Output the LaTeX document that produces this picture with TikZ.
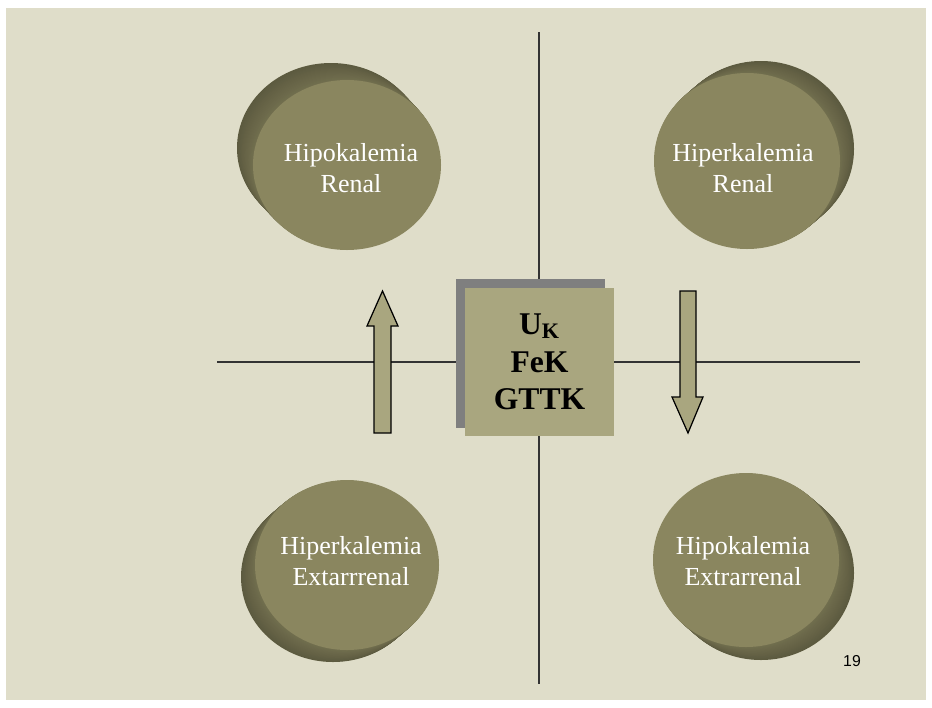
\documentclass[tikz,border=0pt]{standalone}
\usepackage{fontspec}
\setmainfont{Liberation Serif}
\newfontfamily\pagefont{Liberation Sans}
\usetikzlibrary{shadows}
\definecolor{slidebg}{HTML}{DFDDC9}
\definecolor{discface}{HTML}{8A865F}
\definecolor{discdark}{HTML}{54523A}
\definecolor{boxfill}{HTML}{A9A67F}
\definecolor{boxshadow}{HTML}{7F7F7F}
\tikzset{disc label/.style={text=white,align=center,font=\fontsize{14.8}{17.5}\selectfont},
  axis line/.style={draw=black!80,line width=0.8pt},
  fat arrow/.style={fill=boxfill,draw=black,line width=0.7pt,line join=miter},
  kbox/.style={fill=boxfill,minimum size=2.98cm,inner sep=0pt,align=center,
    font=\bfseries\fontsize{18}{21.5}\selectfont,
    drop shadow={shadow xshift=-0.18cm,shadow yshift=0.17cm,fill=boxshadow,opacity=1}}}
% #1,#2 face centre, #3,#4 offset of the back, #5,#6 radii
\newcommand\kdisc[6]{%
  \foreach \s in {20,19,...,1}
  {\pgfmathtruncatemacro\mix{45+2*\s}
   \fill[discdark!\mix!discface] ({#1+\s*#3/20},{#2+\s*#4/20}) ellipse[x radius=#5,y radius=#6];}
  \fill[discface] (#1,#2) ellipse[x radius=#5,y radius=#6];}

\begin{document}
\begin{tikzpicture}[x=0.02cm,y=-0.02cm]
  \useasboundingbox (0,0) rectangle (932,707);
  \fill[white] (0,0) rectangle (932,707);
  \fill[slidebg] (6,8) rectangle (926,700);
  % axes
  \coordinate (vtop) at (539,32);
  \coordinate (vbot) at (539,684);
  \coordinate (hleft) at (217,362);
  \coordinate (hright) at (860,362);
  \draw[axis line] (vtop) -- (vbot);
  \draw[axis line] (hleft) -- (hright);
  % central box
  \node[kbox] (kbox) at (539.5,362) {U\textsubscript{K}\\FeK\\GTTK};
  % arrows
  \draw[fat arrow] (374,433) -- (374,326) -- (367,326) -- (382.5,291) -- (398,326)
    -- (391,326) -- (391,433) -- cycle;
  \draw[fat arrow] (680,291) -- (696,291) -- (696,397) -- (703,397) -- (688,433)
    -- (672,397) -- (680,397) -- cycle;
  % discs
  \kdisc{347}{165}{-16}{-17}{94}{85}
  \kdisc{747}{161}{14}{-12}{93}{88}
  \kdisc{347}{565}{-14}{12}{92}{85}
  \kdisc{746}{560}{15}{13}{93}{87}
  \node[disc label] (hipoR) at (351,168) {Hipokalemia\\Renal};
  \node[disc label] (hiperR) at (743,168) {Hiperkalemia\\Renal};
  \node[disc label] (hiperE) at (351,561) {Hiperkalemia\\Extarrrenal};
  \node[disc label] (hipoE) at (743,561) {Hipokalemia\\Extrarrenal};
  \node[font=\pagefont\fontsize{9}{11}\selectfont] (pnum) at (852,661) {19};
\end{tikzpicture}
\end{document}
